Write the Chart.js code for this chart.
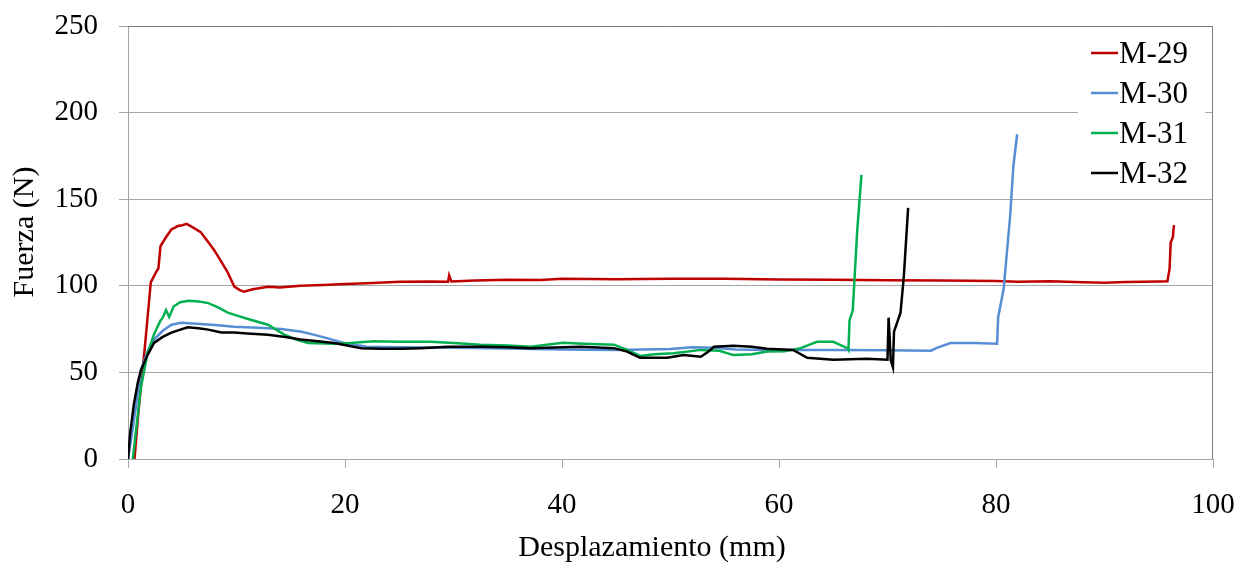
<!DOCTYPE html>
<html>
<head>
<meta charset="utf-8">
<script src="https://cdn.jsdelivr.net/npm/chart.js@4/dist/chart.umd.min.js"></script>
<style>
html, body { margin: 0; padding: 0; background: #fff; }
</style>
</head>
<body>
<canvas id="myChart" width="1239" height="566"></canvas>
<script>
// curvas (desplazamiento mm, fuerza N)
const m29x = [0.6, 1.0, 1.5, 2.1, 2.6, 2.8, 3.0, 3.5, 4.0, 4.6, 5.0, 5.4, 5.9, 6.7, 7.3, 7.9, 8.5, 9.2, 9.8, 10.3, 10.7, 11.5, 12.9, 14, 15.9, 18, 20, 22, 25.1, 28, 29.5, 29.6, 29.8, 32, 35, 38, 40, 45, 50, 55, 60, 65, 70, 75, 80, 82, 85, 88, 90, 92, 95, 95.8, 96.0, 96.1, 96.3, 96.4]
const m29y = [0, 30, 61, 102, 108, 110, 123, 128, 132.5, 134.5, 135, 135.8, 134, 131, 126, 121, 115, 107.6, 99.5, 97.5, 96.6, 98, 99.5, 99, 100, 100.5, 101, 101.5, 102.4, 102.5, 102.3, 106, 102.5, 103, 103.5, 103.3, 104, 103.8, 104, 104, 103.6, 103.5, 103.2, 103, 102.8, 102.4, 102.6, 102, 101.8, 102.2, 102.5, 102.6, 110, 125, 128, 135]

const m30x = [0, 0.3, 0.55, 0.9, 1.2, 1.8, 2.4, 3.2, 4.0, 4.9, 6, 8, 9.8, 12, 14.1, 16, 17.1, 18.5, 19.9, 22, 25, 30, 35, 40, 45, 50, 52, 54, 56, 60, 62, 65, 70, 74, 74.5, 75.8, 78, 80.1, 80.2, 80.7, 81.3, 81.6, 81.95]
const m30y = [0, 12, 22.6, 38, 51.5, 62, 69, 74, 77.5, 78.7, 78.3, 77.3, 76.4, 75.8, 75, 73.5, 71.8, 69.5, 67, 64.8, 64.5, 64.2, 63.8, 63.2, 63, 63.5, 64.5, 64.3, 63.2, 63, 63, 63, 62.8, 62.5, 64, 67, 67, 66.5, 82, 98, 140, 169, 187.5]

const m31x = [0.45, 0.8, 1.2, 1.8, 2.4, 3.0, 3.2, 3.5, 3.8, 4.2, 4.8, 5.6, 6.5, 7.4, 8.3, 9.2, 10.2, 11.3, 12.9, 14.4, 15.5, 16.6, 19, 20.5, 22.6, 25.1, 27.9, 30, 32.5, 35, 37.1, 40.1, 42, 44.8, 46, 47.2, 48.5, 50.3, 52.8, 54.5, 55.8, 57.5, 58.9, 60.5, 62, 63, 63.5, 65, 66.3, 66.4, 66.5, 66.8, 67.2, 67.6]
const m31y = [0, 20, 41.7, 61, 72, 80, 81.6, 86, 82, 88, 90.5, 91.4, 91, 90, 87.5, 84.5, 82.5, 80.4, 77.5, 71.8, 69, 67, 66.5, 67, 68, 67.7, 67.7, 67, 66, 65.5, 64.8, 67.1, 66.5, 66, 63, 59.5, 60.5, 61, 63, 62.5, 60, 60.5, 62, 62.2, 64, 66.5, 67.7, 67.7, 64, 63, 80, 86, 131, 164]

const m32x = [0, 0.2, 0.55, 0.9, 1.2, 1.8, 2.4, 3.2, 4, 5.5, 6.5, 7.4, 8.6, 9.8, 11, 12.9, 14.5, 15.9, 17.5, 19, 21.5, 23.3, 25.1, 27, 29.5, 32.5, 35, 37.1, 40, 41.7, 44.8, 46, 47.2, 49.7, 51.2, 52.8, 53.5, 54, 55.8, 57.5, 58.9, 61.3, 62.6, 65, 68.1, 70, 70.1, 70.2, 70.3, 70.5, 70.6, 71.2, 71.5, 71.9]
const m32y = [0, 15, 32, 44, 51.5, 60, 67, 70.5, 73, 76, 75.5, 74.7, 73, 73, 72.5, 71.8, 70.5, 69, 68, 67, 64, 63.6, 63.6, 64, 64.8, 64.8, 64.5, 64, 64.5, 64.8, 64, 62, 58.4, 58.4, 60, 59, 62, 64.8, 65.4, 64.8, 63.6, 63, 58.4, 57.3, 57.9, 57.3, 81.6, 70, 57, 53, 73.5, 84.5, 105, 145]

const xTicks = [0, 20, 40, 60, 80, 100]
const yTicks = [0, 50, 100, 150, 200, 250]

const pts = (xs, ys) => xs.map((x, i) => ({ x: x, y: ys[i] }))

const serif = '"Liberation Serif", "Times New Roman", serif'
const gridGray = '#a6a6a6'

const serie = (label, xs, ys, color, order) => ({
    label: label,
    data: pts(xs, ys),
    borderColor: color,
    backgroundColor: color,
    borderWidth: 2.5,
    pointRadius: 0,
    tension: 0,
    order: order
})

// marco, leyenda y títulos de ejes
const extras = {
    id: 'extras',
    afterDatasetsDraw(chart) {
        const c = chart.ctx
        const a = chart.chartArea
        c.save()
        c.strokeStyle = '#808080'
        c.lineWidth = 1
        c.beginPath()
        c.moveTo(a.left, a.top + 0.5)
        c.lineTo(a.right - 0.5, a.top + 0.5)
        c.lineTo(a.right - 0.5, a.bottom)
        c.stroke()

        // leyenda
        c.fillStyle = '#fff'
        c.fillRect(1078, 36, 127, 158)
        c.font = '31px ' + serif
        c.textBaseline = 'middle'
        c.textAlign = 'left'
        chart.data.datasets.forEach((ds, i) => {
            const y = 55 + i * 40
            c.strokeStyle = ds.borderColor
            c.lineWidth = 2.5
            c.beginPath()
            c.moveTo(1091, y - 2)
            c.lineTo(1118, y - 2)
            c.stroke()
            c.fillStyle = '#000'
            c.fillText(ds.label, 1119, y)
        })

        // títulos
        c.fillStyle = '#000'
        c.font = '30px ' + serif
        c.textAlign = 'center'
        c.fillText('Desplazamiento (mm)', 652, 548)
        c.translate(25, 232)
        c.rotate(-Math.PI / 2)
        c.fillText('Fuerza (N)', 0, 0)
        c.restore()
    }
}

let ctx = document.getElementById('myChart')

new Chart(ctx, {
    type: 'line',
    data: {
        datasets: [
            serie('M-29', m29x, m29y, '#C00000', 4),
            serie('M-30', m30x, m30y, '#558ED5', 3),
            serie('M-31', m31x, m31y, '#00B050', 2),
            serie('M-32', m32x, m32y, '#000000', 1)
        ]
    },
    options: {
        responsive: false,
        animation: false,
        layout: {
            padding: { left: 0, right: 26, top: 26, bottom: 0 }
        },
        scales: {
            x: {
                type: 'linear',
                min: 0,
                max: 100,
                afterFit: (s) => {
                    s.height = 107
                    s.paddingLeft = 0
                    s.paddingRight = 0
                },
                afterBuildTicks: (s) => { s.ticks = xTicks.map(v => ({ value: v })) },
                grid: {
                    drawOnChartArea: false,
                    drawTicks: true,
                    tickLength: 9,
                    color: gridGray
                },
                border: { color: gridGray },
                ticks: {
                    color: '#000',
                    padding: 20,
                    maxRotation: 0,
                    font: { family: serif, size: 29 }
                }
            },
            y: {
                min: 0,
                max: 250,
                afterFit: (s) => {
                    s.width = 128
                    s.paddingTop = 0
                    s.paddingBottom = 0
                },
                afterBuildTicks: (s) => { s.ticks = yTicks.map(v => ({ value: v })) },
                grid: {
                    color: gridGray,
                    tickLength: 9
                },
                border: { color: gridGray },
                ticks: {
                    color: '#000',
                    padding: 21,
                    font: { family: serif, size: 29 }
                }
            }
        },
        plugins: {
            legend: { display: false },
            tooltip: { enabled: false }
        }
    },
    plugins: [extras]
});
</script>
</body>
</html>
